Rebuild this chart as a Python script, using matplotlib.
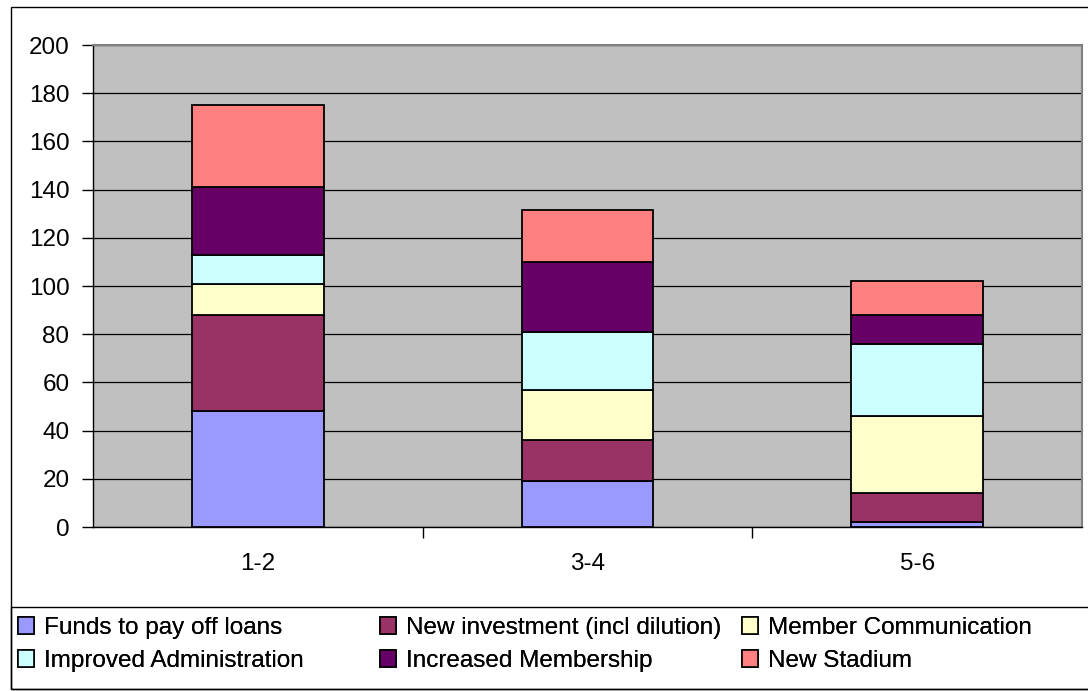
import matplotlib.pyplot as plt
import numpy as np
from matplotlib.patches import Rectangle, Patch

plt.rcParams["font.family"] = ["Liberation Sans", "DejaVu Sans"]

categories = ["1-2", "3-4", "5-6"]
series_names = [
    "Funds to pay off loans",
    "New investment (incl dilution)",
    "Member Communication",
    "Improved Administration",
    "Increased Membership",
    "New Stadium",
]
funds = [48, 19, 2]
new_investment = [40, 17, 12]
member_comm = [13, 21, 32]
improved_admin = [12, 24, 30]
increased_membership = [28, 29, 12]
new_stadium = [34, 21.5, 14]
colors = ["#9999FF", "#993366", "#FFFFCC", "#CCFFFF", "#660066", "#FF8080"]

W, H = 1088, 691
FS = 17.5
fig = plt.figure(figsize=(W / 100, H / 100), dpi=100)

# outer chart border and legend box
fig.patches.append(Rectangle((11 / W, 1 - 689 / H), 1.2, (689 - 7) / H,
                             transform=fig.transFigure, fill=False,
                             edgecolor="black", lw=1.0))
fig.patches.append(Rectangle((11 / W, 1 - 689 / H), 1.2, (689 - 607) / H,
                             transform=fig.transFigure, fill=False,
                             edgecolor="black", lw=1.0))

ax = fig.add_axes([93 / W, 1 - 527 / H, 989 / W, 482 / H])
ax.set_facecolor("#C0C0C0")

x = np.arange(len(categories))
all_series = [funds, new_investment, member_comm, improved_admin,
              increased_membership, new_stadium]
bottom = np.zeros(len(categories))
for vals, col, name in zip(all_series, colors, series_names):
    ax.bar(x, vals, width=0.4, bottom=bottom, color=col, edgecolor="black",
           linewidth=1.3, label=name, zorder=3)
    bottom += np.array(vals)

ax.set_xlim(-0.5, 2.5)
ax.set_ylim(0, 200)
ax.set_yticks(np.arange(0, 201, 20))
ax.yaxis.grid(True, color="black", linewidth=0.9, zorder=1)
ax.set_axisbelow(True)
ax.set_xticks(x)
ax.set_xticklabels(categories)
ax.set_xticks([0.5, 1.5], minor=True)
ax.tick_params(axis="x", which="major", length=0, pad=19, labelsize=FS)
ax.tick_params(axis="x", which="minor", length=8, width=1, direction="out")
ax.tick_params(axis="y", length=8, width=1, direction="out", pad=9, labelsize=FS)

for side in ["top", "right"]:
    ax.spines[side].set_color("#808080")
    ax.spines[side].set_linewidth(1.5)
for side in ["left", "bottom"]:
    ax.spines[side].set_color("black")
    ax.spines[side].set_linewidth(1.0)

# legend: three columns, two rows (row-major like Excel)
handles = [Patch(facecolor=c, edgecolor="black", linewidth=1.2) for c in colors]
col_x = [18, 380, 742]
for ci in range(3):
    hs = [handles[ci], handles[ci + 3]]
    ls = [series_names[ci], series_names[ci + 3]]
    leg = fig.legend(hs, ls, loc="upper left",
                     bbox_to_anchor=(col_x[ci] / W, 1 - 617 / H),
                     frameon=False, fontsize=FS, handlelength=0.65,
                     handleheight=0.65, handletextpad=0.4, labelspacing=0.45,
                     borderaxespad=0, borderpad=0)
    fig.add_artist(leg)

fig.savefig("out.png", dpi=100)
